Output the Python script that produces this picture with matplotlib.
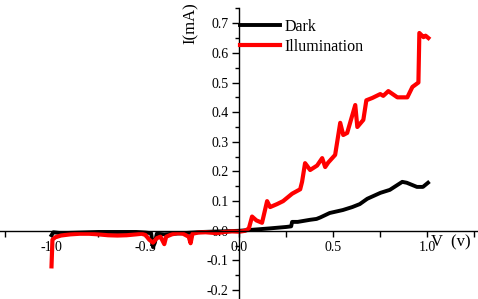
import numpy as np
import matplotlib.pyplot as plt
from matplotlib.ticker import MultipleLocator

plt.rcParams['font.family'] = ['Liberation Serif', 'DejaVu Serif']
plt.rcParams['axes.unicode_minus'] = False

# Dark current
dark_v = [-1.0, -0.99, -0.95, -0.85, -0.75, -0.65, -0.55, -0.50, -0.47, -0.46, -0.45,
          -0.44, -0.40, -0.35, -0.30, -0.25, -0.20, -0.10, 0.0, 0.1, 0.16, 0.25, 0.275,
          0.28, 0.31, 0.375, 0.41, 0.43, 0.47, 0.48, 0.55, 0.60, 0.64, 0.68, 0.75, 0.80,
          0.866, 0.89, 0.944, 0.976, 1.003]
dark_i = [-0.015, -0.005, -0.008, -0.006, -0.004, -0.004, -0.004, -0.006, -0.008, -0.055, -0.040,
          -0.010, -0.012, -0.010, -0.008, -0.006, -0.004, -0.002, 0.0, 0.005, 0.008, 0.013, 0.015,
          0.030, 0.030, 0.037, 0.040, 0.045, 0.057, 0.060, 0.070, 0.080, 0.090, 0.108, 0.128, 0.138,
          0.165, 0.162, 0.148, 0.148, 0.162]

# Illumination current
ill_v = [-1.0, -0.995, -0.98, -0.95, -0.90, -0.85, -0.80, -0.75, -0.70, -0.65, -0.60, -0.55,
         -0.52, -0.50, -0.48, -0.46, -0.44, -0.42, -0.40, -0.39, -0.36, -0.33, -0.30, -0.27,
         -0.26, -0.25, -0.22, -0.18, -0.12, -0.08, -0.04, 0.0, 0.03, 0.05, 0.067, 0.09, 0.12,
         0.147, 0.163, 0.20, 0.232, 0.28, 0.323, 0.333, 0.349, 0.376, 0.413, 0.44, 0.456,
         0.472, 0.509, 0.536, 0.552, 0.573, 0.616, 0.627, 0.659, 0.675, 0.707, 0.749, 0.765,
         0.792, 0.84, 0.893, 0.92, 0.952, 0.957, 0.979, 0.99, 1.005]
ill_i = [-0.120, -0.030, -0.022, -0.016, -0.012, -0.010, -0.010, -0.012, -0.015, -0.016, -0.015, -0.012,
         -0.010, -0.014, -0.030, -0.040, -0.025, -0.020, -0.045, -0.020, -0.012, -0.008, -0.010, -0.020,
         -0.042, -0.010, -0.006, -0.005, -0.008, -0.004, -0.002, -0.003, 0.0, 0.008, 0.048, 0.035, 0.027,
         0.100, 0.080, 0.090, 0.100, 0.125, 0.140, 0.165, 0.228, 0.205, 0.220, 0.245, 0.215,
         0.230, 0.256, 0.364, 0.323, 0.330, 0.424, 0.350, 0.374, 0.440, 0.448, 0.461, 0.455,
         0.471, 0.450, 0.450, 0.485, 0.500, 0.667, 0.653, 0.658, 0.650]

fig = plt.figure(figsize=(4.78, 2.99), dpi=100)
ax = fig.add_axes([0, 0, 1, 0.972])

ax.plot(dark_v, dark_i, color='black', lw=2.8, label='Dark', solid_joinstyle='round')
ax.plot(ill_v, ill_i, color='red', lw=3.0, label='Illumination', solid_joinstyle='round')

ax.set_xlim(-1.274, 1.269)
ax.set_ylim(-0.23, 0.75)

for s in ['top', 'right']:
    ax.spines[s].set_visible(False)
ax.spines['left'].set_position(('data', 0))
ax.spines['bottom'].set_position(('data', 0))
ax.spines['left'].set_linewidth(1.0)
ax.spines['bottom'].set_linewidth(1.0)
ax.set_axisbelow(True)

ax.xaxis.set_major_locator(MultipleLocator(0.5))
ax.xaxis.set_minor_locator(MultipleLocator(0.25))
ax.yaxis.set_major_locator(MultipleLocator(0.1))
ax.yaxis.set_minor_locator(MultipleLocator(0.05))
ax.xaxis.set_major_formatter(lambda v, p: f'{v:.1f}')
ax.yaxis.set_major_formatter(lambda v, p: f'{v:.1f}')
ax.tick_params(axis='x', which='both', direction='out', length=4, width=1, labelsize=10, pad=3)
ax.tick_params(axis='y', which='major', direction='out', length=5, width=1, labelsize=10, pad=3)
ax.tick_params(axis='y', which='minor', direction='out', length=3, width=1)

ax.text(-0.26, 0.7, 'I(mA)', rotation=90, fontsize=12, ha='center', va='center')
ax.text(1.125, -0.038, 'V  (v)', fontsize=12, ha='center', va='center')

ax.legend(loc='upper left', bbox_to_anchor=(0.502, 0.965), frameon=False, fontsize=11.5,
          handlelength=2.5, handletextpad=0.3, borderpad=0, borderaxespad=0,
          labelspacing=0.25)

fig.savefig('out.png', dpi=100)
